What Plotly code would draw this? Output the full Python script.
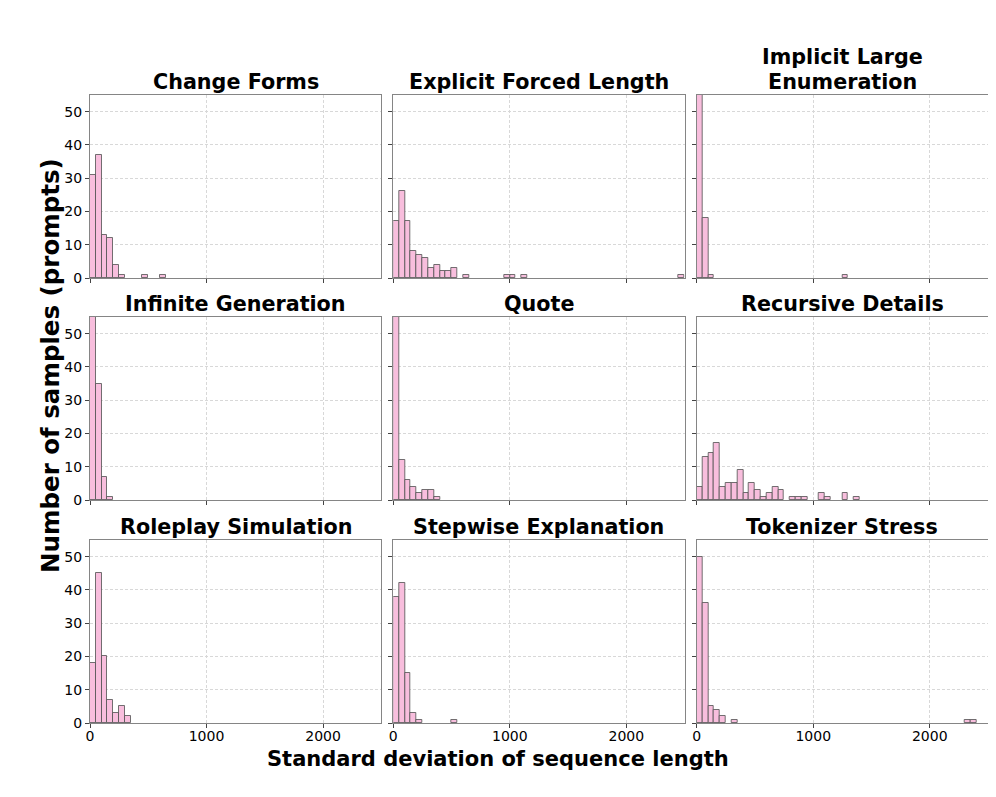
import plotly.graph_objects as go
from plotly.subplots import make_subplots

# ---------------- data ----------------
CATEGORIES = [
    "Change Forms", "Explicit Forced Length", "Implicit Large Enumeration",
    "Infinite Generation", "Quote", "Recursive Details",
    "Roleplay Simulation", "Stepwise Explanation", "Tokenizer Stress",
]
TITLE_LINES = [
    ["Change Forms"], ["Explicit Forced Length"], ["Implicit Large", "Enumeration"],
    ["Infinite Generation"], ["Quote"], ["Recursive Details"],
    ["Roleplay Simulation"], ["Stepwise Explanation"], ["Tokenizer Stress"],
]

BIN_WIDTH = 50  # histogram bin width (std of sequence length)

# counts per bin, bin 0 = [0, 50), bin 1 = [50, 100), ...
CHANGE_FORMS = [31, 37, 13, 12, 4, 1, 0, 0, 0, 1, 0, 0, 1]
EXPLICIT_FORCED_LENGTH = [17, 26, 17, 8, 7, 6, 3, 4, 2, 2, 3, 0, 1, 0, 0, 0, 0, 0, 0, 1,
                          1, 0, 1, 0, 0, 0, 0, 0, 0, 0, 0, 0, 0, 0, 0, 0, 0, 0, 0, 0,
                          0, 0, 0, 0, 0, 0, 0, 0, 0, 1]
IMPLICIT_LARGE_ENUMERATION = [80, 18, 1, 0, 0, 0, 0, 0, 0, 0, 0, 0, 0, 0, 0, 0, 0, 0, 0, 0,
                              0, 0, 0, 0, 0, 1]
INFINITE_GENERATION = [57, 35, 7, 1]
QUOTE = [69, 12, 6, 4, 2, 3, 3, 1]
RECURSIVE_DETAILS = [4, 13, 14, 17, 4, 5, 5, 9, 2, 5, 3, 1, 2, 4, 3, 0, 1, 1, 1, 0,
                     0, 2, 1, 0, 0, 2, 0, 1]
ROLEPLAY_SIMULATION = [18, 45, 20, 7, 3, 5, 2]
STEPWISE_EXPLANATION = [38, 42, 15, 3, 1, 0, 0, 0, 0, 0, 1]
TOKENIZER_STRESS = [50, 36, 5, 4, 2, 0, 1, 0, 0, 0, 0, 0, 0, 0, 0, 0, 0, 0, 0, 0,
                    0, 0, 0, 0, 0, 0, 0, 0, 0, 0, 0, 0, 0, 0, 0, 0, 0, 0, 0, 0,
                    0, 0, 0, 0, 0, 0, 1, 1]

SERIES = [CHANGE_FORMS, EXPLICIT_FORCED_LENGTH, IMPLICIT_LARGE_ENUMERATION,
          INFINITE_GENERATION, QUOTE, RECURSIVE_DETAILS,
          ROLEPLAY_SIMULATION, STEPWISE_EXPLANATION, TOKENIZER_STRESS]

X_RANGE = [0, 2500]
Y_RANGE = [0, 55]
X_TICKS = [0, 1000, 2000]
Y_TICKS = [0, 10, 20, 30, 40, 50]

X_LABEL = "Standard deviation of sequence length"
Y_LABEL = "Number of samples (prompts)"

# ---------------- layout geometry (screen pixels) ----------------
PAGE_OFFSET = 8          # default page body margin around the plot div
SCREEN_W, SCREEN_H = 996, 797
W, H = SCREEN_W - PAGE_OFFSET, SCREEN_H - PAGE_OFFSET
PLOT_LEFT, PLOT_RIGHT, PLOT_TOP, PLOT_BOTTOM = 90, 988, 95, 723
ML = PLOT_LEFT - PAGE_OFFSET
MT = PLOT_TOP - PAGE_OFFSET
MR = SCREEN_W - PLOT_RIGHT
MB = SCREEN_H - PLOT_BOTTOM
PW, PH = PLOT_RIGHT - PLOT_LEFT, PLOT_BOTTOM - PLOT_TOP
COL_LEFT = [90, 393.3, 696.7]
COL_W = 291.3
ROW_TOP = [95, 317, 540]
ROW_H = 183


def xp(px):
    return (px - PLOT_LEFT) / PW


def yp(py):
    return (PLOT_BOTTOM - py) / PH


FONT = "DejaVu Sans"
BAR_FILL = "rgb(248,190,221)"
BAR_EDGE = "rgba(80,80,80,0.8)"

fig = make_subplots(rows=3, cols=3)

for k, counts in enumerate(SERIES):
    r, c = k // 3 + 1, k % 3 + 1
    idx = [i for i, v in enumerate(counts) if v > 0]
    fig.add_trace(
        go.Bar(
            x=[BIN_WIDTH * (i + 0.5) for i in idx],
            y=[counts[i] for i in idx],
            width=BIN_WIDTH,
            marker=dict(color=BAR_FILL, line=dict(color=BAR_EDGE, width=1)),
            showlegend=False,
            name=CATEGORIES[k],
        ),
        row=r, col=c,
    )

axis_common = dict(
    showline=True, mirror=True, linecolor="#858585", linewidth=1.3,
    showgrid=True, gridcolor="#d8d8d8", gridwidth=0.8, griddash="3px,2px",
    zeroline=False, ticks="outside", ticklen=4, tickwidth=1, tickcolor="#444",
    tickfont=dict(family=FONT, size=14, color="black"),
)

annotations = []
for k in range(9):
    r, c = k // 3, k % 3
    n = k + 1
    xa = "xaxis" if n == 1 else f"xaxis{n}"
    ya = "yaxis" if n == 1 else f"yaxis{n}"
    x0 = xp(COL_LEFT[c])
    x1 = xp(COL_LEFT[c] + COL_W)
    y1 = yp(ROW_TOP[r])
    y0 = yp(ROW_TOP[r] + ROW_H)
    fig.layout[xa].update(
        domain=[x0, x1], range=X_RANGE, tickvals=X_TICKS,
        showticklabels=(r == 2), ticklabelstandoff=-4, **axis_common,
    )
    fig.layout[ya].update(
        domain=[y0, y1], range=Y_RANGE, tickvals=Y_TICKS,
        showticklabels=(c == 0), **axis_common,
    )
    lines = TITLE_LINES[k]
    for j, line in enumerate(reversed(lines)):
        annotations.append(dict(
            text=line, x=(x0 + x1) / 2, y=yp(ROW_TOP[r] - 13.5 - 24.5 * j),
            xref="paper", yref="paper", xanchor="center", yanchor="middle",
            showarrow=False,
            font=dict(family=FONT, size=20.7, color="black", weight="bold"),
        ))

annotations.append(dict(
    text=X_LABEL, x=xp(498), y=yp(759), xref="paper", yref="paper",
    xanchor="center", yanchor="middle", showarrow=False,
    font=dict(family=FONT, size=21, color="black", weight="bold"),
))
annotations.append(dict(
    text=Y_LABEL, x=xp(50), y=yp(366), xref="paper", yref="paper",
    xanchor="center", yanchor="middle", showarrow=False, textangle=-90,
    font=dict(family=FONT, size=24.5, color="black", weight="bold"),
))

fig.update_layout(
    width=W, height=H,
    margin=dict(l=ML, r=MR, t=MT, b=MB, autoexpand=False),
    paper_bgcolor="white", plot_bgcolor="white",
    bargap=0, barmode="overlay",
    annotations=annotations,
    font=dict(family=FONT, color="black"),
    showlegend=False,
)

fig.write_html("out.html")
